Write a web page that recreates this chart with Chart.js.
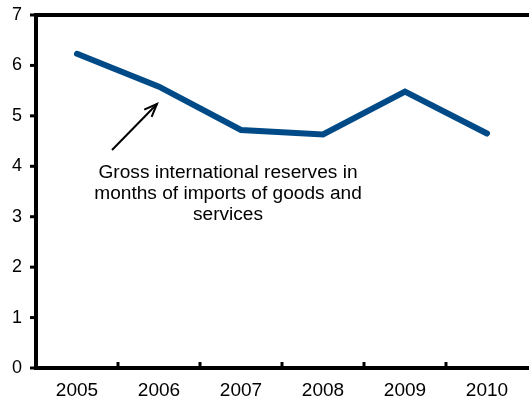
<!DOCTYPE html>
<html>
<head>
<meta charset="utf-8">
<script src="https://cdn.jsdelivr.net/npm/chart.js@4.4.0/dist/chart.umd.min.js"></script>
<style>
  html, body { margin: 0; padding: 0; background: #fff; }
  canvas { display: block; }
</style>
</head>
<body>
<canvas id="reservesChart" width="529" height="401"></canvas>
<script>
// data
const years = ['2005', '2006', '2007', '2008', '2009', '2010'];
const reserveMonths = [6.23, 5.58, 4.72, 4.63, 5.48, 4.65];
const yTicks = [0, 1, 2, 3, 4, 5, 6, 7];
const noteLines = ['Gross international reserves in', 'months of imports of goods and', 'services'];

const FONT = 'Liberation Sans, Arial, sans-serif';

// axis frame, tick marks and the note with its arrow
const framePlugin = {
  id: 'frame',
  afterDraw(chart) {
    const ctx = chart.ctx;
    const a = chart.chartArea;
    const x = chart.scales.x;
    const y = chart.scales.y;
    ctx.save();
    ctx.strokeStyle = '#000';
    ctx.lineCap = 'butt';

    // y ticks (outward, left)
    ctx.lineWidth = 3;
    yTicks.forEach(v => {
      const py = y.getPixelForValue(v);
      ctx.beginPath();
      ctx.moveTo(a.left - 6, py);
      ctx.lineTo(a.left, py);
      ctx.stroke();
    });

    // x ticks between categories (inward)
    const step = x.getPixelForValue(1) - x.getPixelForValue(0);
    for (let i = 0; i < years.length - 1; i++) {
      const px = x.getPixelForValue(i) + step / 2;
      ctx.beginPath();
      ctx.moveTo(px, a.bottom);
      ctx.lineTo(px, a.bottom - 6);
      ctx.stroke();
    }

    // frame: left, bottom, top
    ctx.lineWidth = 4;
    ctx.beginPath();
    ctx.moveTo(a.right + 2, a.top);
    ctx.lineTo(a.left, a.top);
    ctx.lineTo(a.left, a.bottom);
    ctx.lineTo(a.right + 2, a.bottom);
    ctx.stroke();

    // note text, stretched a little wider like the original
    ctx.fillStyle = '#000';
    ctx.font = '18px ' + FONT;
    ctx.textAlign = 'center';
    ctx.textBaseline = 'alphabetic';
    const cx = 228;
    const sx = 259 / ctx.measureText(noteLines[0]).width;
    noteLines.forEach((t, i) => {
      ctx.save();
      ctx.translate(cx, 178 + i * 21);
      ctx.scale(sx, 1);
      ctx.fillText(t, 0, 0);
      ctx.restore();
    });

    // arrow
    const x0 = 112, y0 = 150, x1 = 157, y1 = 104;
    ctx.lineWidth = 2;
    ctx.beginPath();
    ctx.moveTo(x0, y0);
    ctx.lineTo(x1, y1);
    ctx.stroke();
    const ang = Math.atan2(y1 - y0, x1 - x0);
    const hl = 14;
    ctx.beginPath();
    ctx.moveTo(x1 + hl * Math.cos(ang + Math.PI - 0.38), y1 + hl * Math.sin(ang + Math.PI - 0.38));
    ctx.lineTo(x1, y1);
    ctx.lineTo(x1 + hl * Math.cos(ang + Math.PI + 0.38), y1 + hl * Math.sin(ang + Math.PI + 0.38));
    ctx.stroke();
    ctx.restore();
  }
};

new Chart(document.getElementById('reservesChart').getContext('2d'), {
  type: 'line',
  data: {
    labels: years,
    datasets: [{
      label: 'Gross international reserves',
      data: reserveMonths,
      borderColor: '#004b87',
      borderWidth: 6,
      borderCapStyle: 'round',
      borderJoinStyle: 'miter',
      pointRadius: 0,
      tension: 0,
      fill: false
    }]
  },
  options: {
    responsive: false,
    animation: false,
    layout: { padding: { top: 15, right: 1, left: 0, bottom: 0 } },
    plugins: {
      legend: { display: false },
      tooltip: { enabled: false }
    },
    scales: {
      x: {
        offset: true,
        grid: { display: false, drawTicks: false },
        border: { display: false },
        ticks: {
          color: '#000',
          font: { family: FONT, size: 19 },
          padding: 11,
          maxRotation: 0
        },
        afterFit(scale) {
          scale.height = 33;
          scale.paddingLeft = 0;
          scale.paddingRight = 0;
        }
      },
      y: {
        min: 0,
        max: 7,
        grid: { display: false, drawTicks: false },
        border: { display: false },
        ticks: {
          stepSize: 1,
          color: '#000',
          font: { family: FONT, size: 18 },
          padding: 14
        },
        afterFit(scale) {
          scale.width = 36;
          scale.paddingTop = 0;
          scale.paddingBottom = 0;
        }
      }
    }
  },
  plugins: [framePlugin]
});
</script>
</body>
</html>
